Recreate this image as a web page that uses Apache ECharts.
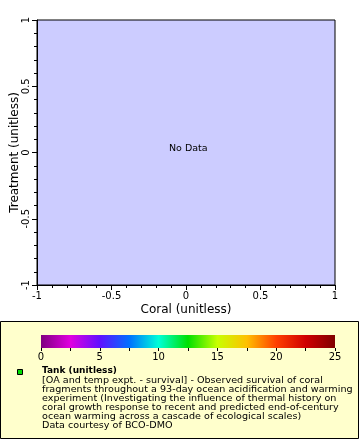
<!DOCTYPE html>
<html>
<head>
<meta charset="utf-8">
<script src="https://cdn.jsdelivr.net/npm/echarts@6/dist/echarts.min.js"></script>
<style>html,body{margin:0;padding:0;background:#fff;}#c{width:360px;height:440px;}</style>
</head>
<body>
<div id="c"></div>
<script>
var xRange = [-1, 1];
var yRange = [-1, 1];
var plotData = [];
var colorRange = [0, 25];
var colorStops = ['#800080','#e000e0','#6010ff','#0070ff','#00ffd8','#00e000','#c8ff00','#ffc000','#ff4000','#d00000','#800000'];
var legendTitle = 'Tank (unitless)';
var legendLines = [
  '[OA and temp expt. - survival] - Observed survival of coral',
  'fragments throughout a 93-day ocean acidification and warming',
  'experiment (Investigating the influence of thermal history on',
  'coral growth response to recent and predicted end-of-century',
  'ocean warming across a cascade of ecological scales)',
  'Data courtesy of BCO-DMO'
];

var font = 'DejaVu Sans';
var chart = echarts.init(document.getElementById('c'), null, {renderer: 'canvas'});

var gradStops = colorStops.map(function (c, i) { return {offset: i / (colorStops.length - 1), color: c}; });

var graphics = [
  {type: 'rect', shape: {x: 0.5, y: 321.5, width: 358, height: 117}, style: {fill: '#ffffcc', stroke: '#000', lineWidth: 1}, z: -10},
  {type: 'rect', shape: {x: 17.5, y: 369.5, width: 5, height: 5}, style: {fill: '#00dd00', stroke: '#000', lineWidth: 1}},
  {type: 'text', x: 42, y: 371, scaleX: 1.0, style: {text: legendTitle, font: 'bold 9px ' + font, fill: '#000', verticalAlign: 'middle', textVerticalAlign: 'middle'}}
];
legendLines.forEach(function (t, i) {
  graphics.push({type: 'text', x: 42, y: 381 + i * 9, scaleX: 1.13, style: {text: t, font: '8.5px ' + font, fill: '#000', verticalAlign: 'middle', textVerticalAlign: 'middle'}});
});
graphics.push({type: 'text', x: 169, y: 149, style: {text: 'No Data', font: '9.5px ' + font, fill: '#000', verticalAlign: 'middle', textVerticalAlign: 'middle'}, z: 100});

var option = {
  animation: false,
  grid: [
    {left: 37, top: 20, width: 298, height: 265, show: true, backgroundColor: '#ccccff', borderColor: '#000', borderWidth: 1, containLabel: false, outerBoundsMode: 'none'},
    {left: 41, top: 335, width: 294, height: 13, show: false, containLabel: false, outerBoundsMode: 'none'}
  ],
  xAxis: [
    {gridIndex: 0, type: 'value', min: xRange[0], max: xRange[1], interval: 0.5,
     name: 'Coral (unitless)', nameLocation: 'middle', nameGap: 19, nameMoveOverlap: false,
     nameTextStyle: {fontFamily: font, fontSize: 12, color: '#000'},
     axisLine: {show: true, onZero: false, lineStyle: {color: '#000'}},
     axisTick: {show: true, length: 5, lineStyle: {color: '#000'}},
     minorTick: {show: true, splitNumber: 5, length: 3, lineStyle: {color: '#000'}},
     splitLine: {show: false},
     axisLabel: {fontFamily: font, fontSize: 10, color: '#000', margin: 6}},
    {gridIndex: 1, type: 'value', min: colorRange[0], max: colorRange[1], interval: 5,
     axisLine: {show: false, onZero: false},
     axisTick: {show: true, length: 3, lineStyle: {color: '#000'}},
     minorTick: {show: true, splitNumber: 2, length: 3, lineStyle: {color: '#000'}},
     splitLine: {show: false},
     axisLabel: {fontFamily: font, fontSize: 10, color: '#000', margin: 4}}
  ],
  yAxis: [
    {gridIndex: 0, type: 'value', min: yRange[0], max: yRange[1], interval: 0.5,
     name: 'Treatment (unitless)', nameLocation: 'middle', nameGap: 16, nameMoveOverlap: false,
     nameTextStyle: {fontFamily: font, fontSize: 12, color: '#000'},
     axisLine: {show: true, onZero: false, lineStyle: {color: '#000'}},
     axisTick: {show: true, length: 5, lineStyle: {color: '#000'}},
     minorTick: {show: true, splitNumber: 5, length: 3, lineStyle: {color: '#000'}},
     splitLine: {show: false},
     axisLabel: {fontFamily: font, fontSize: 10, color: '#000', rotate: 90, margin: 6}},
    {gridIndex: 1, type: 'value', min: 0, max: 1, show: false}
  ],
  series: [
    {type: 'scatter', xAxisIndex: 0, yAxisIndex: 0, data: plotData},
    {type: 'custom', xAxisIndex: 1, yAxisIndex: 1, data: [[colorRange[0], colorRange[1]]],
     renderItem: function (params, api) {
       var p0 = api.coord([api.value(0), 1]);
       var p1 = api.coord([api.value(1), 0]);
       return {type: 'rect', shape: {x: p0[0], y: p0[1], width: p1[0] - p0[0], height: p1[1] - p0[1]},
               style: {fill: new echarts.graphic.LinearGradient(0, 0, 1, 0, gradStops)}};
     }}
  ],
  graphic: graphics
};
chart.setOption(option);
</script>
</body>
</html>
